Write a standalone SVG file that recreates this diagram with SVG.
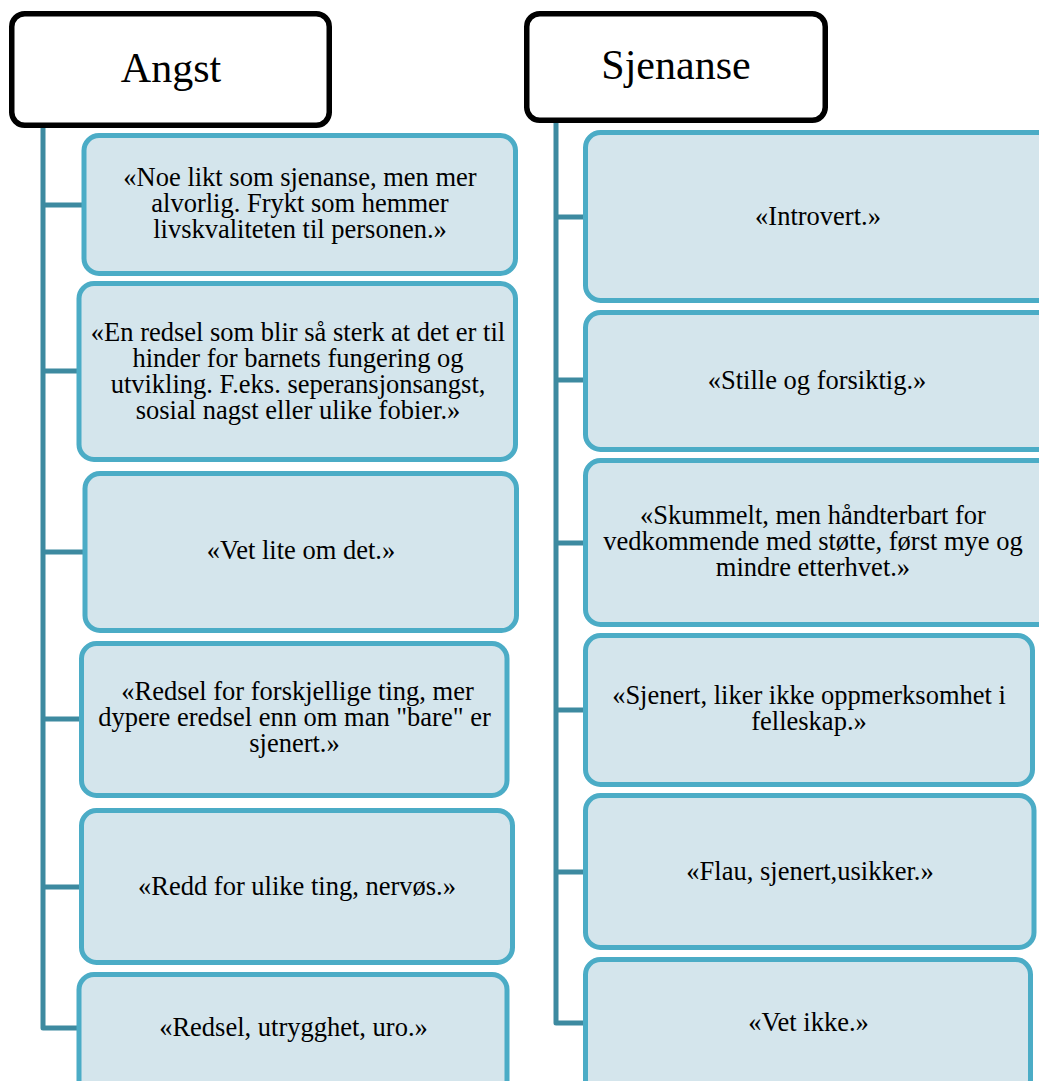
<svg xmlns="http://www.w3.org/2000/svg" width="1039" height="1081" viewBox="0 0 1039 1081">
<style>
.hdr{fill:#ffffff;stroke:#000000;stroke-width:5.5}
.box{fill:#d4e5ec;stroke:#4bacc6;stroke-width:5}
.conn{stroke:#3d8aa0;stroke-width:5;fill:none;stroke-linejoin:round;stroke-linecap:butt}
.t{fill:#000000;text-anchor:middle}
</style>
<rect width="1039" height="1081" fill="#ffffff"/>
<g id="connectors">
<path class="conn" d="M43 127 V1028 H79 M43 205 H84 M43 371 H79 M43 552 H85 M43 719 H81.5 M43 887 H81.5"/>
<path class="conn" d="M556 122 V1023 H585.5 M556 217 H585.5 M556 380 H585.5 M556 543 H585.5 M556 710 H585.5 M556 872 H585.5"/>
</g>
<g font-family="Liberation Serif, Times New Roman, serif">
<g id="angst">
<rect class="hdr" x="11.75" y="13.75" width="317.5" height="111.5" rx="13"/>
<text class="t" font-size="42" x="171" y="82">Angst</text>
</g>
<g id="sjenanse">
<rect class="hdr" x="526.75" y="13.75" width="298.5" height="106.5" rx="13"/>
<text class="t" font-size="42" x="676" y="79">Sjenanse</text>
</g>
<g id="a1" font-size="26.5">
<rect class="box" x="84" y="135.5" width="431.5" height="138" rx="15"/>
<text class="t"><tspan x="300" y="186">«Noe likt som sjenanse, men mer</tspan><tspan x="300" y="212">alvorlig. Frykt som hemmer</tspan><tspan x="300" y="238">livskvaliteten til personen.»</tspan></text>
</g>
<g id="a2" font-size="26.5">
<rect class="box" x="79" y="283.5" width="436.5" height="176" rx="15"/>
<text class="t"><tspan x="298" y="341">«En redsel som blir så sterk at det er til</tspan><tspan x="298" y="367">hinder for barnets fungering og</tspan><tspan x="298" y="393">utvikling. F.eks. seperansjonsangst,</tspan><tspan x="298" y="419">sosial nagst eller ulike fobier.»</tspan></text>
</g>
<g id="a3" font-size="26.5">
<rect class="box" x="85" y="473.5" width="431.5" height="157" rx="15"/>
<text class="t" x="301" y="559">«Vet lite om det.»</text>
</g>
<g id="a4" font-size="26.5">
<rect class="box" x="81.5" y="643.5" width="425.5" height="152" rx="15"/>
<text class="t"><tspan x="297.5" y="700">«Redsel for forskjellige ting, mer</tspan><tspan x="294.5" y="726">dypere eredsel enn om man "bare" er</tspan><tspan x="294.5" y="752">sjenert.»</tspan></text>
</g>
<g id="a5" font-size="26.5">
<rect class="box" x="81.5" y="810.5" width="431" height="152" rx="15"/>
<text class="t" x="297" y="895">«Redd for ulike ting, nervøs.»</text>
</g>
<g id="a6" font-size="26.5">
<rect class="box" x="79" y="974.5" width="428" height="125" rx="15"/>
<text class="t" x="293.5" y="1036">«Redsel, utrygghet, uro.»</text>
</g>
<g id="s1" font-size="26.5">
<rect class="box" x="585.5" y="132.5" width="470" height="168" rx="15"/>
<text class="t" x="818" y="225">«Introvert.»</text>
</g>
<g id="s2" font-size="26.5">
<rect class="box" x="585.5" y="312.5" width="470" height="137" rx="15"/>
<text class="t" x="817" y="389">«Stille og forsiktig.»</text>
</g>
<g id="s3" font-size="26.5">
<rect class="box" x="585.5" y="460.5" width="470" height="164" rx="15"/>
<text class="t"><tspan x="813" y="524">«Skummelt, men håndterbart for</tspan><tspan x="813" y="550">vedkommende med støtte, først mye og</tspan><tspan x="813" y="576">mindre etterhvet.»</tspan></text>
</g>
<g id="s4" font-size="26.5">
<rect class="box" x="585.5" y="635.5" width="447" height="149" rx="15"/>
<text class="t"><tspan x="809" y="704">«Sjenert, liker ikke oppmerksomhet i</tspan><tspan x="809" y="730">felleskap.»</tspan></text>
</g>
<g id="s5" font-size="26.5">
<rect class="box" x="585.5" y="795.5" width="448.5" height="152" rx="15"/>
<text class="t" x="810" y="880">«Flau, sjenert,usikker.»</text>
</g>
<g id="s6" font-size="26.5">
<rect class="box" x="585.5" y="959.5" width="445" height="135" rx="15"/>
<text class="t" x="808.5" y="1031">«Vet ikke.»</text>
</g>
</g>
</svg>
